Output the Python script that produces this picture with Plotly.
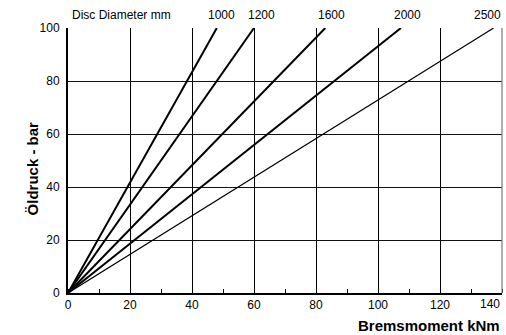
import plotly.graph_objects as go

# Disc diameters and the braking torque (kNm) reached at 100 bar
diameters = ["1000", "1200", "1600", "2000", "2500"]
torque_at_100bar = [48.0, 60.0, 83.0, 107.4, 137.3]
pressure_max = 100
line_widths = [2, 2, 2, 2, 1.2]
label_x = [49.5, 62.3, 85.0, 109.6, 140.0]

x_ticks = [0, 20, 40, 60, 80, 100, 120, 140]
y_ticks = [0, 20, 40, 60, 80, 100]

FONT = "Liberation Sans Narrow, Arial Narrow, Liberation Sans, sans-serif"

fig = go.Figure()
for d, t, w in zip(diameters, torque_at_100bar, line_widths):
    fig.add_trace(go.Scatter(
        x=[0, t], y=[0, pressure_max], mode="lines",
        line=dict(color="black", width=w), name=d, showlegend=False,
        hoverinfo="skip",
    ))

annotations = [dict(
    x=0.005, y=1.0, xref="paper", yref="paper", yshift=4,
    text="Disc Diameter mm", showarrow=False, xanchor="left", yanchor="bottom",
    font=dict(family=FONT, size=12, color="black"),
)]
for i, (d, lx) in enumerate(zip(diameters, label_x)):
    last = i == len(diameters) - 1
    annotations.append(dict(
        x=lx, y=1.0, xref="x", yref="paper", yshift=4, xshift=1 if last else 0,
        text=d, showarrow=False, xanchor="right" if last else "center",
        yanchor="bottom",
        font=dict(family=FONT, size=12, color="black"),
    ))
# last x tick label sits flush with the right edge of the plot
annotations.append(dict(
    x=x_ticks[-1], y=0, xref="x", yref="paper", yshift=-2,
    text=str(x_ticks[-1]), showarrow=False, xanchor="right", yanchor="top",
    font=dict(family=FONT, size=12, color="black"),
))
annotations.append(dict(
    x=1.0, y=0, xref="paper", yref="paper", yshift=-22,
    text="<b>Bremsmoment kNm</b>", showarrow=False, xanchor="right", yanchor="top",
    font=dict(family=FONT, size=15, color="black"),
))
annotations.append(dict(
    x=0, y=0.47, xref="paper", yref="paper", xshift=-36,
    text="<b>Öldruck - bar</b>", showarrow=False, textangle=-90,
    xanchor="center", yanchor="middle",
    font=dict(family=FONT, size=15, color="black"),
))

fig.update_layout(
    width=506, height=335,
    margin=dict(l=68, r=4, t=28, b=42),
    paper_bgcolor="white", plot_bgcolor="white",
    font=dict(family=FONT, size=12, color="black"),
    annotations=annotations,
    xaxis=dict(
        range=[0, 140], tickvals=x_ticks[:-1], showgrid=True,
        gridcolor="black", gridwidth=1.2, zeroline=False,
        showline=True, linecolor="black", linewidth=2, mirror=False,
        ticks="", ticklen=0,
        minor=dict(dtick=10, ticks="inside", ticklen=4, tickcolor="black", showgrid=False),
        fixedrange=True,
    ),
    yaxis=dict(
        range=[0, 100], tickvals=y_ticks, showgrid=True,
        gridcolor="#111", gridwidth=1.2, zeroline=False,
        showline=True, linecolor="black", linewidth=2, mirror=False,
        ticks="", ticklen=0, ticklabelstandoff=4,
        fixedrange=True,
    ),
    shapes=[dict(
        type="line", xref="paper", yref="paper", x0=1, x1=1, y0=0, y1=1,
        line=dict(color="#777", width=1.2),
    )],
)

fig.write_html("out.html")
